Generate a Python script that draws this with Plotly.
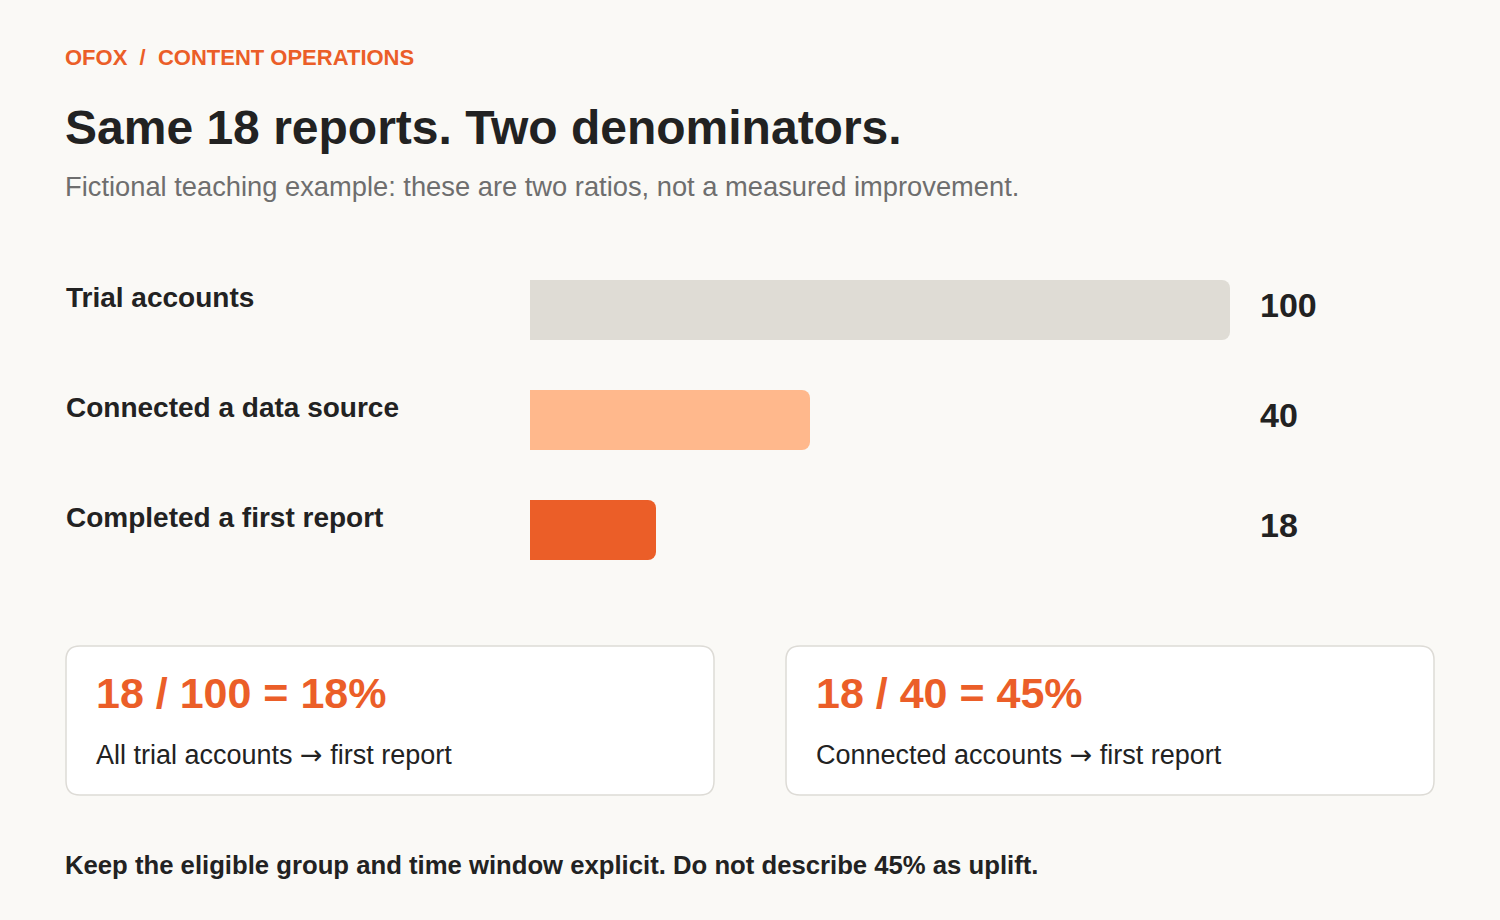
import plotly.graph_objects as go

W, H = 1500, 920

# data
STAGES = ["Trial accounts", "Connected a data source", "Completed a first report"]
COUNTS = [100, 40, 18]
NUMERATORS = [18, 18]
DENOMINATORS = [100, 40]
CARD_FROM = ["All trial accounts", "Connected accounts"]
CARD_TO = ["first report", "first report"]

KICKER = "OFOX  /  CONTENT OPERATIONS"
TITLE = "Same 18 reports. Two denominators."
SUBTITLE = "Fictional teaching example: these are two ratios, not a measured improvement."
FOOTER = "Keep the eligible group and time window explicit. Do not describe 45% as uplift."

BG = "#FAF9F6"
ORANGE = "#EB5E28"
DARK = "#222222"
BAR_COLORS = ["#DFDCD5", "#FFB88C", ORANGE]
FONT = "Liberation Sans, Arial, sans-serif"
ARROW = '<span style="font-family:DejaVu Sans">\u2192</span>'


def px(x):
    return x / W


def py(y):
    return 1 - y / H


def rounded_rect(x0, y0, x1, y1, r):
    # path in paper coords, pixel inputs
    rx, ry = r / W, r / H
    a, b, c, d = px(x0), py(y0), px(x1), py(y1)
    return (f"M {a+rx},{b} L {c-rx},{b} Q {c},{b} {c},{b-ry} "
            f"L {c},{d+ry} Q {c},{d} {c-rx},{d} L {a+rx},{d} "
            f"Q {a},{d} {a},{d+ry} L {a},{b-ry} Q {a},{b} {a+rx},{b} Z")


fig = go.Figure()
fig.add_trace(go.Bar(
    x=COUNTS, y=STAGES, orientation="h",
    marker=dict(color=BAR_COLORS, line=dict(width=0), cornerradius=8),
    hoverinfo="skip",
))

annotations = []
# row labels and values
for stage, n in zip(STAGES, COUNTS):
    annotations.append(dict(x=px(64), xref="paper", y=stage, yref="y", yshift=13,
                            text=f"<b>{stage}</b>", showarrow=False, xanchor="left",
                            font=dict(size=28, color=DARK, family=FONT)))
    annotations.append(dict(x=px(1258), xref="paper", y=stage, yref="y", yshift=5,
                            text=f"<b>{n}</b>", showarrow=False, xanchor="left",
                            font=dict(size=34, color=DARK, family=FONT)))

# header
annotations += [
    dict(x=px(63), y=py(57), text=f"<b>{KICKER}</b>", font=dict(size=22, color=ORANGE, family=FONT)),
    dict(x=px(63), y=py(127), text=f"<b>{TITLE}</b>", font=dict(size=48, color=DARK, family=FONT)),
    dict(x=px(63), y=py(186), text=SUBTITLE, font=dict(size=27.3, color="#6E6E6E", family=FONT)),
    dict(x=px(63), y=py(865), text=f"<b>{FOOTER}</b>", font=dict(size=25.7, color=DARK, family=FONT)),
]

shapes = []
card_x = [66, 786]
for cx, num, den, src, dst in zip(card_x, NUMERATORS, DENOMINATORS, CARD_FROM, CARD_TO):
    shapes.append(dict(type="path", xref="paper", yref="paper",
                       path=rounded_rect(cx, 646, cx + 648, 795, 14),
                       fillcolor="#FFFFFF", line=dict(color="#DDDBD6", width=1.5), layer="below"))
    pct = round(num / den * 100)
    annotations.append(dict(x=px(cx + 28), y=py(693), text=f"<b>{num} / {den} = {pct}%</b>",
                            font=dict(size=43, color=ORANGE, family=FONT)))
    annotations.append(dict(x=px(cx + 28), y=py(754), text=f"{src} {ARROW} {dst}",
                            font=dict(size=27, color=DARK, family=FONT)))

for a in annotations:
    a.setdefault("xref", "paper")
    a.setdefault("yref", "paper")
    a.setdefault("showarrow", False)
    a.setdefault("xanchor", "left")
    a.setdefault("yanchor", "middle")

fig.update_layout(
    width=W, height=H,
    margin=dict(l=0, r=0, t=0, b=0),
    paper_bgcolor=BG, plot_bgcolor=BG,
    showlegend=False,
    bargap=1 - 60 / 110,
    xaxis=dict(domain=[px(530), px(1230)], range=[0, 100], visible=False, fixedrange=True),
    yaxis=dict(domain=[py(585), py(255)], type="category", categoryorder="array",
               categoryarray=STAGES, autorange="reversed", visible=False, fixedrange=True),
    annotations=annotations,
    shapes=shapes,
    font=dict(family=FONT),
)

# drop the default page margin so the figure sits at the window origin
fig.write_html("out.html", config={"displayModeBar": False},
               post_script="document.body.style.margin='0';")
